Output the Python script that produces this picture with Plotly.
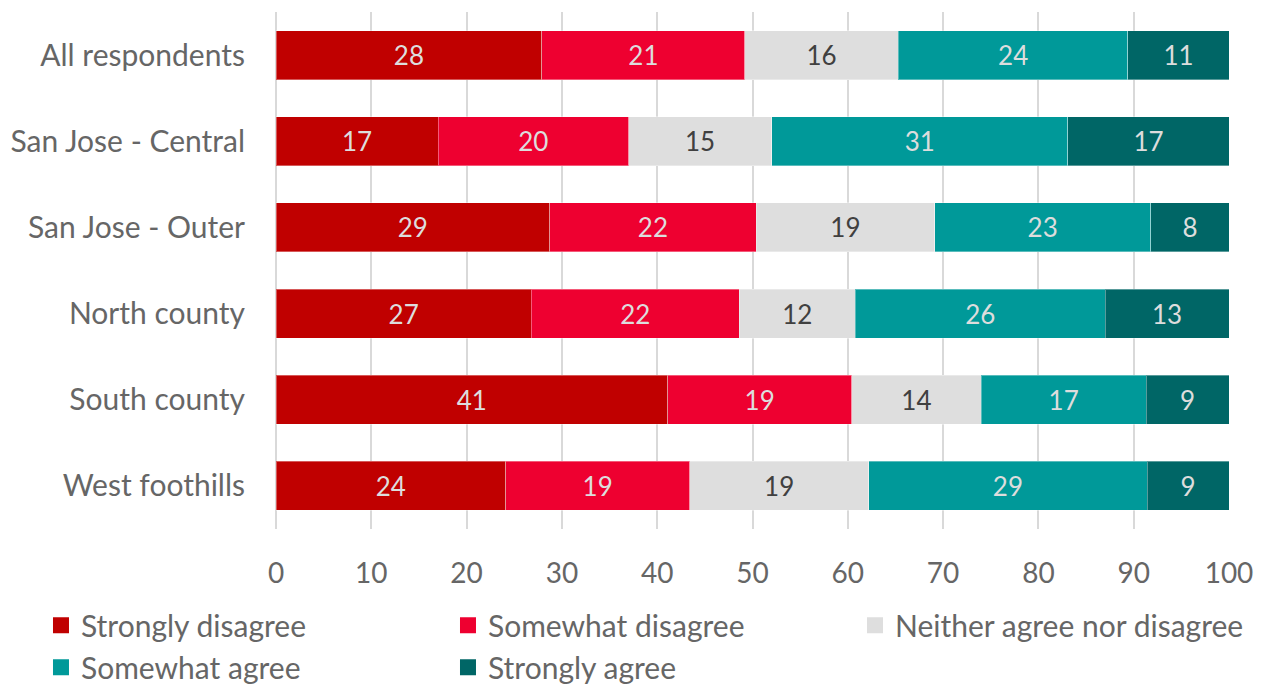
import plotly.graph_objects as go

categories = ["All respondents", "San Jose - Central", "San Jose - Outer",
              "North county", "South county", "West foothills"]

strongly_disagree = [27.9, 17.0, 28.7, 26.8, 41.1, 24.1]
somewhat_disagree = [21.3, 20.0, 21.7, 21.8, 19.3, 19.3]
neither = [16.1, 15.0, 18.7, 12.2, 13.6, 18.8]
somewhat_agree = [24.1, 31.1, 22.7, 26.2, 17.3, 29.2]
strongly_agree = [10.6, 16.9, 8.2, 13.0, 8.7, 8.6]

series_names = ["Strongly disagree", "Somewhat disagree",
                "Neither agree nor disagree", "Somewhat agree", "Strongly agree"]
series_values = [strongly_disagree, somewhat_disagree, neither, somewhat_agree, strongly_agree]
colors = ["#C00000", "#EE0030", "#DEDEDE", "#009999", "#006666"]
text_colors = ["#DDDDDD", "#DDDDDD", "#404040", "#DDDDDD", "#DDDDDD"]

FONT = "Lato"
fig = go.Figure()
for name, vals, col, tcol in zip(series_names, series_values, colors, text_colors):
    fig.add_trace(go.Bar(
        y=categories, x=vals, name=name, orientation="h", showlegend=False,
        marker=dict(color=col, line=dict(color="rgba(255,255,255,0.35)", width=1)),
        texttemplate="%{x:.0f}", textposition="inside", insidetextanchor="middle",
        textfont=dict(family=FONT, size=26, color=tcol),
        textangle=0, constraintext="none",
    ))
# legend entries with larger square swatches
for name, col in zip(series_names, colors):
    fig.add_trace(go.Scatter(
        x=[None], y=[None], mode="markers", name=name, showlegend=True,
        marker=dict(symbol="square", size=17, color=col),
    ))

fig.update_layout(
    barmode="stack", bargap=0.43,
    width=1266, height=686,
    margin=dict(l=276, r=37, t=12, b=157, autoexpand=False),
    paper_bgcolor="white", plot_bgcolor="white",
    font=dict(family=FONT, size=28, color="#666666"),
    xaxis=dict(range=[0, 100], dtick=10, showgrid=True, gridcolor="#D9D9D9", gridwidth=2,
               zeroline=True, zerolinecolor="#D9D9D9", zerolinewidth=2,
               tickfont=dict(size=28, color="#666666"), ticks="", ticklabelstandoff=25,
               fixedrange=True),
    yaxis=dict(autorange="reversed", tickfont=dict(size=30, color="#666666"),
               ticks="", ticklabelstandoff=30, showgrid=False),
    legend=dict(orientation="h", xref="paper", yref="paper",
                x=-0.2466, y=-0.136, xanchor="left", yanchor="top",
                entrywidth=362, font=dict(size=30, color="#666666"),
                traceorder="normal", itemwidth=30),
    showlegend=True,
)

fig.write_html("out.html")
